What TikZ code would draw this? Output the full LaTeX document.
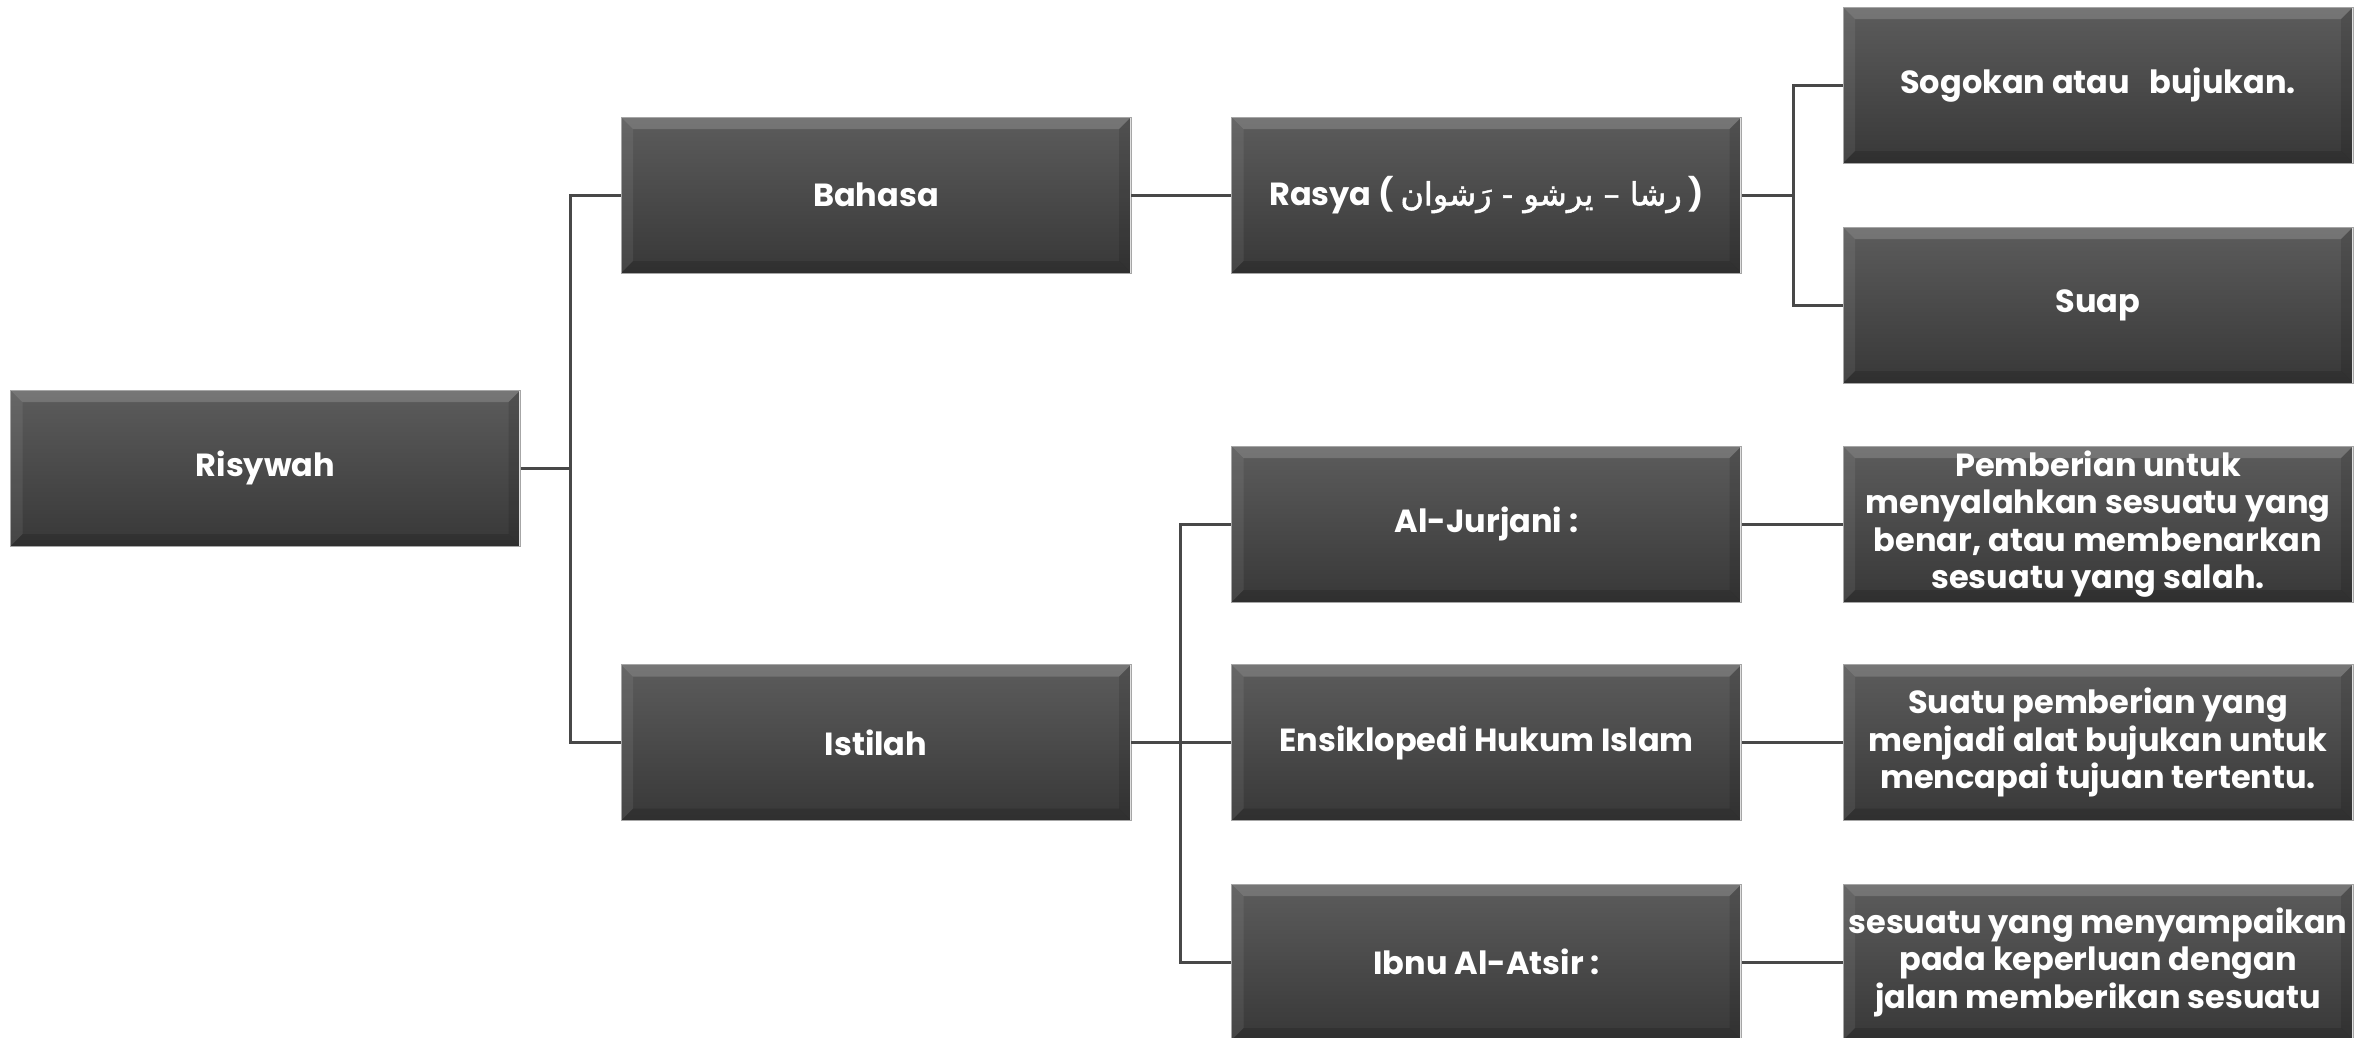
\documentclass[tikz,border=0pt]{standalone}
\usepackage{fontspec}
\setmainfont{Poppins}
\newfontfamily\arabicfont[Script=Arabic,FakeBold=1.5]{DejaVu Sans}
\TeXXeTstate=1
\definecolor{boxtop}{RGB}{92,92,92}
\definecolor{boxbot}{RGB}{56,56,56}
\definecolor{linec}{RGB}{72,72,72}
\tikzset{
  box/.style={rectangle, inner sep=0pt, minimum width=510pt, minimum height=156pt,
    top color=boxtop, bottom color=boxbot, draw=gray!70, line width=0.6pt,
    text=white, align=center, font=\bfseries\fontsize{32}{37.5}\selectfont,
    path picture={
      \fill[white,opacity=.16] (path picture bounding box.north west) -- (path picture bounding box.north east)
        -- ([xshift=-12pt,yshift=-12pt]path picture bounding box.north east)
        -- ([xshift=12pt,yshift=-12pt]path picture bounding box.north west) -- cycle;
      \fill[white,opacity=.07] (path picture bounding box.north west)
        -- ([xshift=12pt,yshift=-12pt]path picture bounding box.north west)
        -- ([xshift=12pt,yshift=12pt]path picture bounding box.south west)
        -- (path picture bounding box.south west) -- cycle;
      \fill[black,opacity=.12] (path picture bounding box.north east)
        -- ([xshift=-12pt,yshift=-12pt]path picture bounding box.north east)
        -- ([xshift=-12pt,yshift=12pt]path picture bounding box.south east)
        -- (path picture bounding box.south east) -- cycle;
      \fill[black,opacity=.15] (path picture bounding box.south west)
        -- ([xshift=12pt,yshift=12pt]path picture bounding box.south west)
        -- ([xshift=-12pt,yshift=12pt]path picture bounding box.south east)
        -- (path picture bounding box.south east) -- cycle;
      \draw[gray!25,line width=2.5pt] (path picture bounding box.north east) -- (path picture bounding box.south east);
    }},
  conn/.style={draw=linec, line width=3pt}
}
\begin{document}
\begin{tikzpicture}[x=1pt,y=-1pt]
\useasboundingbox[fill=white] (0,0) rectangle (2379,1037);
% column 1
\node[box] (ris) at (265.5,468) {Risywah};
% column 2
\node[box] (bah) at (876,195) {Bahasa};
\node[box] (ist) at (876,742.5) {Istilah};
% column 3
\node[box] (ras) at (1486.5,195) {Rasya ( {\arabicfont\mdseries\beginR رشا – يرشو - رَشوان\endR} )};
\node[box] (jur) at (1486.5,524) {Al-Jurjani :};
\node[box] (ens) at (1486.5,742.5) {Ensiklopedi Hukum Islam};
\node[box] (ibn) at (1486.5,962) {Ibnu Al-Atsir :};
% column 4
\node[box] (sog) at (2098,85) {Sogokan atau\hspace{0.6em}bujukan.};
\node[box] (sua) at (2098,305) {Suap};
\node[box] (pem) at (2098,524) {Pemberian untuk\\menyalahkan sesuatu yang\\benar, atau membenarkan\\sesuatu yang salah.};
\node[box] (stu) at (2098,742.5) {Suatu pemberian yang\\menjadi alat bujukan untuk\\mencapai tujuan tertentu.};
\node[box] (ses) at (2098,962) {sesuatu yang menyampaikan\\pada keperluan dengan\\jalan memberikan sesuatu};
% trunks
\coordinate (t1) at (570,468);
\coordinate (t2) at (1180,742.5);
\coordinate (t3) at (1793,195);
\draw[conn] (ris.east) -- (t1) |- (bah.west);
\draw[conn] (t1) |- (ist.west);
\draw[conn] (bah.east) -- (ras.west);
\draw[conn] (ras.east) -- (t3) |- (sog.west);
\draw[conn] (t3) |- (sua.west);
\draw[conn] (ist.east) -- (t2) -- (ens.west);
\draw[conn] (t2) |- (jur.west);
\draw[conn] (t2) |- (ibn.west);
\draw[conn] (jur.east) -- (pem.west);
\draw[conn] (ens.east) -- (stu.west);
\draw[conn] (ibn.east) -- (ses.west);
\end{tikzpicture}
\end{document}
